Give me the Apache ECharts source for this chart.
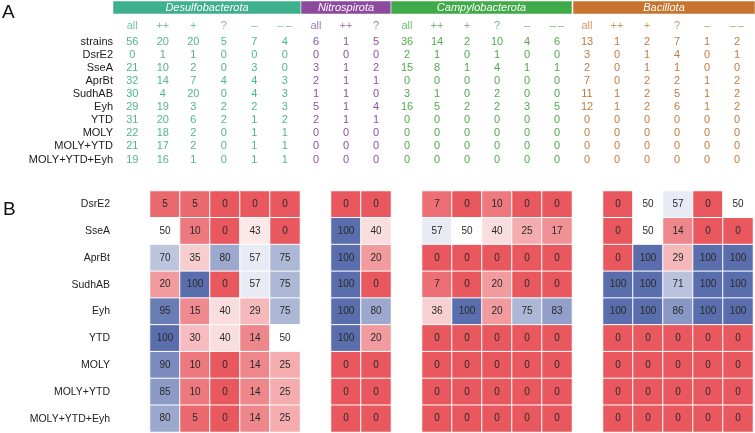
<!DOCTYPE html>
<html>
<head>
<meta charset="utf-8">
<script src="https://cdn.jsdelivr.net/npm/echarts@6/dist/echarts.min.js"></script>
<style>
    html, body { margin: 0; padding: 0; background: #fff; }
    #chart_main { width: 755px; height: 433px; }
</style>
</head>
<body>
<div id="chart_main"></div>
<script>
// rows and columns
var tableRows = ['strains', 'DsrE2', 'SseA', 'AprBt', 'SudhAB', 'Eyh', 'YTD', 'MOLY', 'MOLY+YTD', 'MOLY+YTD+Eyh'];
var heatRows = ['DsrE2', 'SseA', 'AprBt', 'SudhAB', 'Eyh', 'YTD', 'MOLY', 'MOLY+YTD', 'MOLY+YTD+Eyh'];
var phyla = ['Desulfobacterota', 'Nitrospirota', 'Campylobacterota', 'Bacillota'];
var colsFive = ['all', '++', '+', '?', '–', '–\u2009–'];
var colsNitro = ['all', '++', '?'];
var heatColsFive = ['++', '+', '?', '–', '––'];
var heatColsNitro = ['++', '?'];

// A: strain counts (rows = tableRows)
var desulfoCounts = [
    [56, 20, 20, 5, 7, 4],
    [0, 1, 1, 0, 0, 0],
    [21, 10, 2, 0, 3, 0],
    [32, 14, 7, 4, 4, 3],
    [30, 4, 20, 0, 4, 3],
    [29, 19, 3, 2, 2, 3],
    [31, 20, 6, 2, 1, 2],
    [22, 18, 2, 0, 1, 1],
    [21, 17, 2, 0, 1, 1],
    [19, 16, 1, 0, 1, 1]
];
var nitroCounts = [
    [6, 1, 5],
    [0, 0, 0],
    [3, 1, 2],
    [2, 1, 1],
    [1, 1, 0],
    [5, 1, 4],
    [2, 1, 1],
    [0, 0, 0],
    [0, 0, 0],
    [0, 0, 0]
];
var campyCounts = [
    [36, 14, 2, 10, 4, 6],
    [2, 1, 0, 1, 0, 0],
    [15, 8, 1, 4, 1, 1],
    [0, 0, 0, 0, 0, 0],
    [3, 1, 0, 2, 0, 0],
    [16, 5, 2, 2, 3, 5],
    [0, 0, 0, 0, 0, 0],
    [0, 0, 0, 0, 0, 0],
    [0, 0, 0, 0, 0, 0],
    [0, 0, 0, 0, 0, 0]
];
var bacilCounts = [
    [13, 1, 2, 7, 1, 2],
    [3, 0, 1, 4, 0, 1],
    [2, 0, 1, 1, 0, 0],
    [7, 0, 2, 2, 1, 2],
    [11, 1, 2, 5, 1, 2],
    [12, 1, 2, 6, 1, 2],
    [0, 0, 0, 0, 0, 0],
    [0, 0, 0, 0, 0, 0],
    [0, 0, 0, 0, 0, 0],
    [0, 0, 0, 0, 0, 0]
];

// B: percentages (rows = heatRows)
var desulfoPct = [
    [5, 5, 0, 0, 0],
    [50, 10, 0, 43, 0],
    [70, 35, 80, 57, 75],
    [20, 100, 0, 57, 75],
    [95, 15, 40, 29, 75],
    [100, 30, 40, 14, 50],
    [90, 10, 0, 14, 25],
    [85, 10, 0, 14, 25],
    [80, 5, 0, 14, 25]
];
var nitroPct = [
    [0, 0],
    [100, 40],
    [100, 20],
    [100, 0],
    [100, 80],
    [100, 20],
    [0, 0],
    [0, 0],
    [0, 0]
];
var campyPct = [
    [7, 0, 10, 0, 0],
    [57, 50, 40, 25, 17],
    [0, 0, 0, 0, 0],
    [7, 0, 20, 0, 0],
    [36, 100, 20, 75, 83],
    [0, 0, 0, 0, 0],
    [0, 0, 0, 0, 0],
    [0, 0, 0, 0, 0],
    [0, 0, 0, 0, 0]
];
var bacilPct = [
    [0, 50, 57, 0, 50],
    [0, 50, 14, 0, 0],
    [0, 100, 29, 100, 100],
    [100, 100, 71, 100, 100],
    [100, 100, 86, 100, 100],
    [0, 0, 0, 0, 0],
    [0, 0, 0, 0, 0],
    [0, 0, 0, 0, 0],
    [0, 0, 0, 0, 0]
];

var barColors = ['#3fb08d', '#8b4a9e', '#3faa47', '#c8742f'];
var textColors = ['#4fb594', '#8e52a1', '#4fab4b', '#c47b3c'];
var headColors = ['#74c4a8', '#a77ab6', '#74bd70', '#d3975f'];
var tableLayout = [[117, 183], [301, 90], [392, 180], [572, 180]];
var heatLayout = [[150, 150], [331, 60], [422, 150], [603, 150]];
var barSpans = [[113, 301], [301, 391], [391, 572], [573, 755]];

var fontFam = '"Liberation Sans", Arial, sans-serif';

function toCells(rows) {
    var out = [];
    for (var r = 0; r < rows.length; r++) {
        for (var c = 0; c < rows[r].length; c++) {
            out.push([c, r, rows[r][c]]);
        }
    }
    return out;
}

var tableCols = [colsFive, colsNitro, colsFive, colsFive];
var heatCols = [heatColsFive, heatColsNitro, heatColsFive, heatColsFive];
var counts = [desulfoCounts, nitroCounts, campyCounts, bacilCounts];
var pcts = [desulfoPct, nitroPct, campyPct, bacilPct];

var grid = [], xAxis = [], yAxis = [], series = [], graphic = [];

for (var i = 0; i < 4; i++) {
    grid.push({left: tableLayout[i][0], width: tableLayout[i][1], top: 35.5, height: 130.5});
    xAxis.push({
        type: 'category', gridIndex: i, position: 'top', data: tableCols[i],
        axisLine: {show: false}, axisTick: {show: false}, splitLine: {show: false},
        axisLabel: {color: headColors[i], fontSize: 11, margin: 4, interval: 0, fontFamily: fontFam}
    });
    yAxis.push({
        type: 'category', gridIndex: i, inverse: true, data: tableRows,
        axisLine: {show: false}, axisTick: {show: false}, splitLine: {show: false},
        axisLabel: {show: i === 0, color: '#1a1a1a', fontSize: 11, margin: 4, interval: 0, fontFamily: fontFam}
    });
    series.push({
        type: 'heatmap', xAxisIndex: i, yAxisIndex: i, data: toCells(counts[i]),
        itemStyle: {color: 'rgba(0,0,0,0)'},
        label: {show: true, color: textColors[i], fontSize: 11, fontFamily: fontFam},
        emphasis: {disabled: true}
    });
    graphic.push({
        type: 'rect', shape: {x: barSpans[i][0], y: 1, width: barSpans[i][1] - barSpans[i][0], height: 13},
        style: {fill: barColors[i], stroke: '#fff', lineWidth: 0.5}
    });
    graphic.push({
        type: 'text', x: (barSpans[i][0] + barSpans[i][1]) / 2, y: 7.5,
        style: {text: phyla[i], fill: '#fff', fontSize: 11, fontStyle: 'italic', fontFamily: fontFam,
            align: 'center', verticalAlign: 'middle'}
    });
}

for (var j = 0; j < 4; j++) {
    grid.push({left: heatLayout[j][0], width: heatLayout[j][1], top: 191, height: 241});
    xAxis.push({type: 'category', gridIndex: 4 + j, data: heatCols[j], show: false});
    yAxis.push({
        type: 'category', gridIndex: 4 + j, inverse: true, data: heatRows,
        axisLine: {show: false}, axisTick: {show: false}, splitLine: {show: false},
        axisLabel: {show: j === 0, color: '#222', fontSize: 10.5, margin: 40, interval: 0, fontFamily: fontFam}
    });
    series.push({
        type: 'heatmap', xAxisIndex: 4 + j, yAxisIndex: 4 + j, data: toCells(pcts[j]),
        itemStyle: {borderColor: '#fff', borderWidth: 1},
        label: {show: true, color: '#2a2a2a', fontSize: 10, fontFamily: fontFam},
        emphasis: {disabled: true}
    });
}

graphic.push({type: 'text', x: 2, y: 3, style: {text: 'A', fontSize: 19, fill: '#111', fontFamily: fontFam}});
graphic.push({type: 'text', x: 3, y: 200, style: {text: 'B', fontSize: 19, fill: '#111', fontFamily: fontFam}});

var myChart = echarts.init(document.getElementById('chart_main'));
var option = {
    animation: false,
    backgroundColor: '#fff',
    grid: grid,
    xAxis: xAxis,
    yAxis: yAxis,
    visualMap: {
        type: 'continuous', show: false, min: 0, max: 100,
        seriesIndex: [4, 5, 6, 7],
        inRange: {color: ['#e8585e', '#ffffff', '#5a6ead']}
    },
    graphic: graphic,
    series: series
};
myChart.setOption(option);
</script>
</body>
</html>
